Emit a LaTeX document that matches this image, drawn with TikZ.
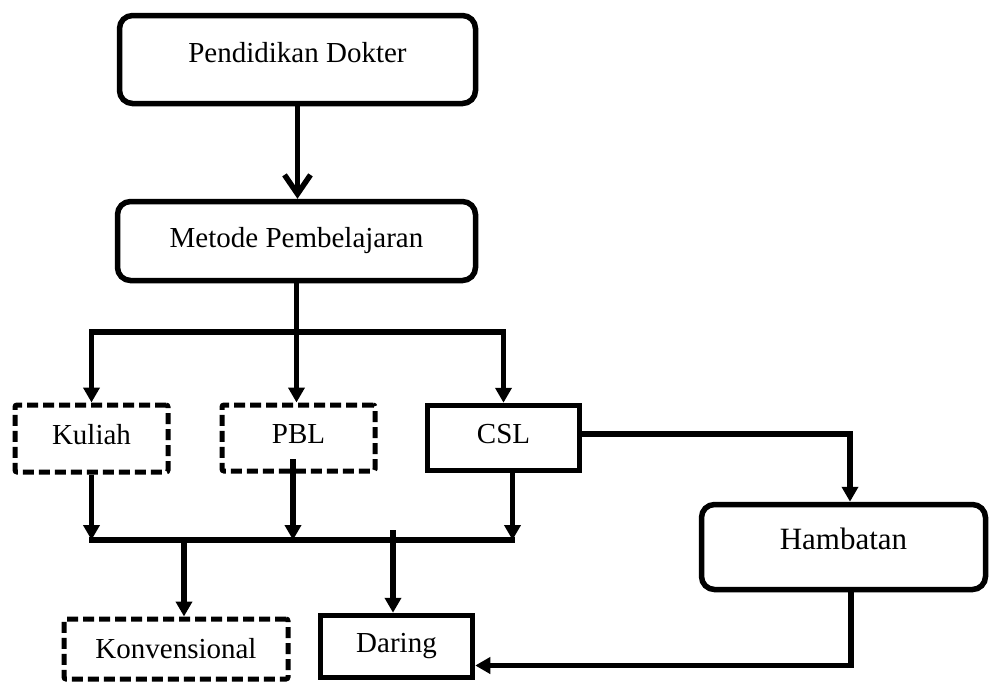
\documentclass[tikz,border=0pt]{standalone}
\usepackage{fontspec}
\setmainfont{Liberation Serif}
\usetikzlibrary{arrows.meta}
\begin{document}
\begin{tikzpicture}[x=1pt,y=-1pt,
  lbl/.style={font=\fontsize{29}{34}\selectfont, inner sep=0pt, align=center},
  rbox/.style={lbl, draw, line width=5.5pt, rounded corners=13pt},
  sbox/.style={lbl, draw, line width=5.5pt},
  dbox/.style={lbl, draw, line width=5pt, rounded corners=2pt, dash pattern=on 11pt off 5pt},
  conn/.style={line width=5.5pt, line cap=rect},
  arr/.style={line width=5.5pt, -{Triangle[width=16pt,length=15pt]}},
  arrboth/.style={line width=5.5pt, {Triangle[width=16pt,length=15pt]}-{Triangle[width=16pt,length=15pt]}},
  barb/.style={line width=5.5pt, -{Straight Barb[width=26pt,length=19pt]}},
]
\useasboundingbox (0,0) rectangle (989,686);

% boxes
\node[rbox, minimum width=356pt, minimum height=88pt, text depth=14pt] (pd) at (297.5,59.5) {Pendidikan Dokter};
\node[rbox, minimum width=358pt, minimum height=79pt] (mp) at (296.5,241) {Metode Pembelajaran};
\node[dbox, minimum width=153pt, minimum height=67pt, text depth=8pt] (kul) at (91.5,438.5) {Kuliah};
\node[dbox, minimum width=153pt, minimum height=66pt, text depth=9pt] (pbl) at (298.5,438) {PBL};
\node[sbox, minimum width=152pt, minimum height=65pt, text depth=9pt] (csl) at (503.5,438) {CSL};
\node[rbox, minimum width=284pt, minimum height=85pt, text depth=17pt, font=\fontsize{31}{36}\selectfont] (ham) at (843.5,547) {Hambatan};
\node[dbox, minimum width=224pt, minimum height=60pt] (kon) at (176,649) {Konvensional};
\node[sbox, minimum width=152pt, minimum height=62pt] (dar) at (396.5,646.5) {Daring};

% helper coordinates
\coordinate (tbus) at (297,332);
\coordinate (bbus) at (297,540);
\coordinate (pblout) at (293,459);
\coordinate (konin) at (184,540);
\coordinate (darin) at (393,530);

% top arrow
\draw[barb] (pd.south) -- (pd.south |- mp.north);

% top distribution bus
\draw[arrboth] (kul.north) |- (tbus) -| (csl.north);
\draw[arr] (mp.south) -- (mp.south |- pbl.north);

% bottom collection bus
\draw[conn] (kul.south |- bbus) -- ([xshift=9pt]csl.south |- bbus);
\draw[arr] (kul.south) -- (kul.south |- bbus);
\draw[arr] (pblout) -- (pblout |- bbus);
\draw[arr] ([xshift=9pt]csl.south) -- ([xshift=9pt]csl.south |- bbus);
\draw[arr] (konin) -- (konin |- kon.north);
\draw[arr] (darin) -- (darin |- dar.north);

% right branch
\draw[arr] ([yshift=4pt]csl.east) -| ([xshift=6.5pt]ham.north);
\draw[arr] ([xshift=7.5pt]ham.south) |- ([yshift=-19pt]dar.east);
\end{tikzpicture}
\end{document}
